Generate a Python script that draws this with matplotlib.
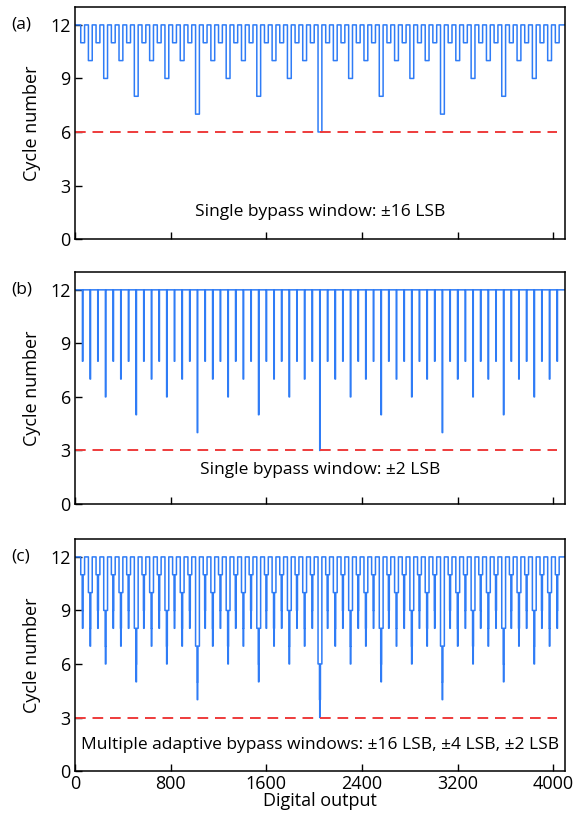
import numpy as np
import matplotlib
matplotlib.use("Agg")
import matplotlib.pyplot as plt
import matplotlib.transforms as mtransforms

plt.rcParams['font.family'] = ['Open Sans', 'DejaVu Sans']

# digital output codes (12-bit)
n_codes = 4096
# bypass windows sit at every 64th code
dip_codes = list(range(64, 4096, 64))

# minimum cycle number reached in each window
depth_16 = [11, 10, 11, 9, 11, 10, 11, 8, 11, 10, 11, 9, 11, 10, 11, 7,
            11, 10, 11, 9, 11, 10, 11, 8, 11, 10, 11, 9, 11, 10, 11, 6,
            11, 10, 11, 9, 11, 10, 11, 8, 11, 10, 11, 9, 11, 10, 11, 7,
            11, 10, 11, 9, 11, 10, 11, 8, 11, 10, 11, 9, 11, 10, 11]
depth_2 = [8, 7, 8, 6, 8, 7, 8, 5, 8, 7, 8, 6, 8, 7, 8, 4,
           8, 7, 8, 6, 8, 7, 8, 5, 8, 7, 8, 6, 8, 7, 8, 3,
           8, 7, 8, 6, 8, 7, 8, 5, 8, 7, 8, 6, 8, 7, 8, 4,
           8, 7, 8, 6, 8, 7, 8, 5, 8, 7, 8, 6, 8, 7, 8]
depth_4 = [d + 1 for d in depth_2]

full_cycles = 12
min_cycles = [6, 3, 3]
panel_tags = ['(a)', '(b)', '(c)']
panel_texts = ['Single bypass window: \u00b116 LSB',
               'Single bypass window: \u00b12 LSB',
               'Multiple adaptive bypass windows: \u00b116 LSB, \u00b14 LSB, \u00b12 LSB']
yticks = [0, 3, 6, 9, 12]
xticks = [0, 800, 1600, 2400, 3200, 4000]


def cycles(windows):
    # windows: list of (half width, depth list), applied wide to narrow
    y = np.full(n_codes, full_cycles, dtype=float)
    for half, depths in windows:
        for c, d in zip(dip_codes, depths):
            y[c - half:c + half] = d
    return y


codes = np.arange(n_codes)
series = [
    cycles([(16, depth_16)]),
    cycles([(2, depth_2)]),
    cycles([(16, depth_16), (4, depth_4), (2, depth_2)]),
]

blue = '#2f7cf6'
red = '#ee3b3b'

fig = plt.figure(figsize=(5.86, 8.22), dpi=100)
bottoms = [0.7092, 0.3869, 0.062]
text_y = [1.5, 1.9, 1.45]

for i in range(3):
    ax = fig.add_axes([0.128, bottoms[i], 0.836, 0.2822])
    ax.plot(codes, series[i], color=blue, lw=1.1, drawstyle='steps-post')
    ax.hlines(min_cycles[i], 0, 4030, colors=red, linestyles=(0, (5.5, 3.5)), lw=1.4)
    ax.set_xlim(0, n_codes)
    ax.set_ylim(0, 13)
    ax.set_yticks(yticks)
    ax.set_xticks(xticks)
    ax.tick_params(direction='in', length=5, width=1, labelsize=13, pad=3)
    if i < 2:
        ax.set_xticklabels([])
    else:
        ax.set_xlabel('Digital output', fontsize=13, labelpad=-1)
    ax.set_ylabel('Cycle number', fontsize=13, labelpad=7)
    for s in ax.spines.values():
        s.set_linewidth(1.1)
    blend = mtransforms.blended_transform_factory(ax.transAxes, ax.transData)
    ax.text(0.5, text_y[i], panel_texts[i], transform=blend,
            ha='center', va='center', fontsize=12.5)
    ax.text(-0.13, 12, panel_tags[i], transform=blend,
            ha='left', va='center', fontsize=12.5)

fig.savefig('out.png', dpi=100)
